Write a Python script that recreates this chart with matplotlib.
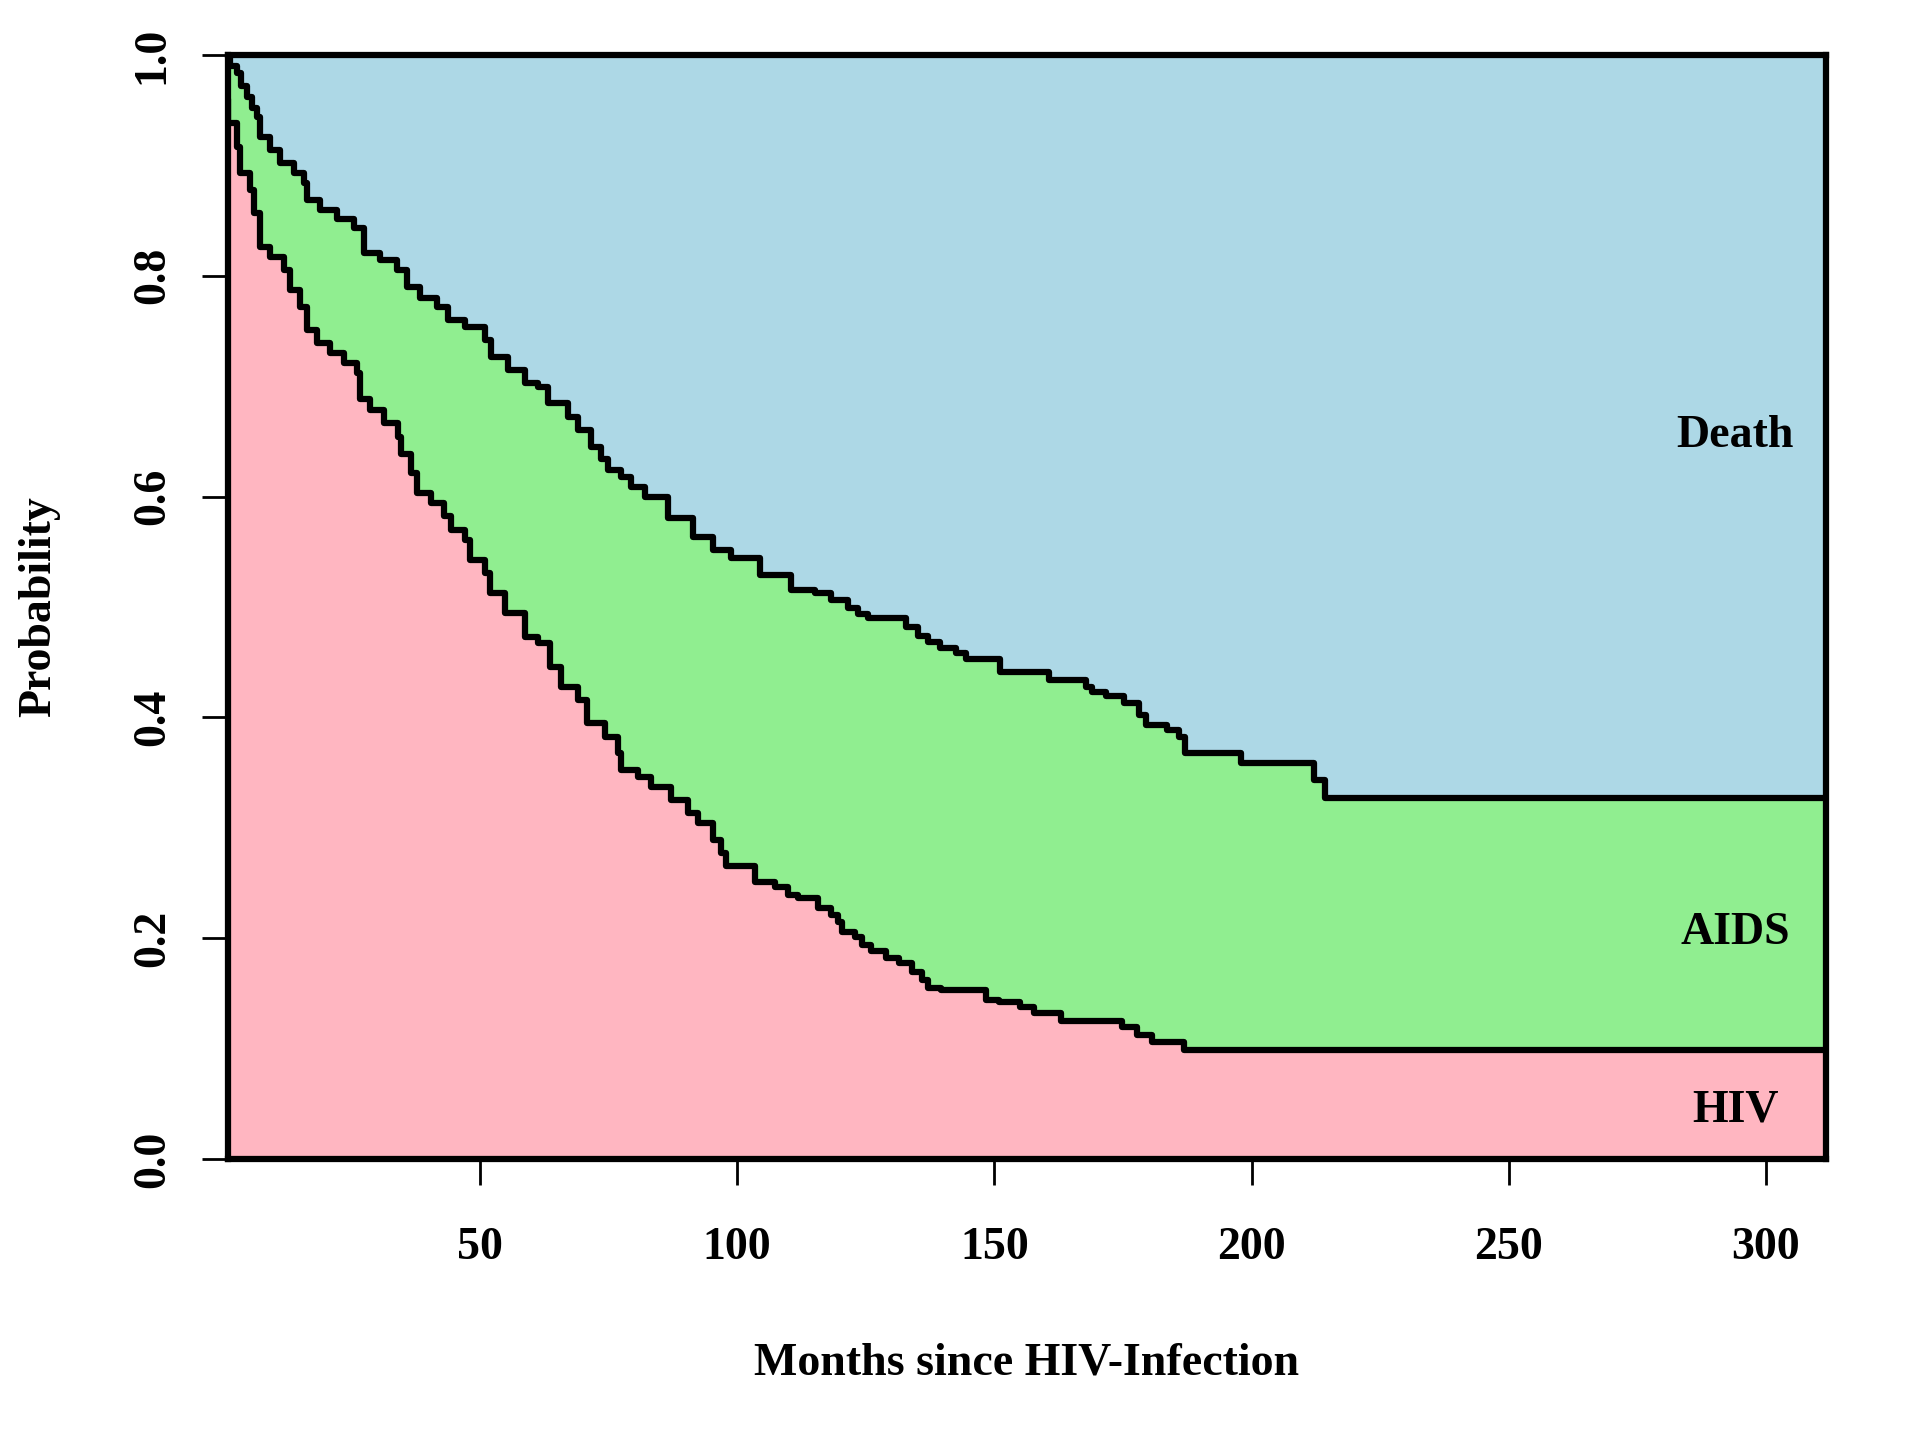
import matplotlib.pyplot as plt
import numpy as np

# Probabilidades de estado (curvas escalonadas)
# curva superior = P(HIV) + P(AIDS), curva inferior = P(HIV)
t_sup = [0, 1.5, 2.7, 3.5, 4.7, 5.6, 6.6, 7.2, 9.2, 11.1,
         13.9, 15.8, 16.4, 18.9, 22.2, 25.5, 27.5, 30.6, 33.9, 35.9,
         38.4, 41.7, 43.7, 47.0, 50.9, 52.1, 55.4, 58.7, 61.2, 63.2,
         67.1, 69.0, 71.5, 73.5, 74.8, 77.4, 79.3, 82.0, 86.5, 91.4,
         95.3, 98.8, 104.5, 110.5, 115.2, 118.3, 121.5, 123.5, 125.5, 132.8,
         135.2, 137.2, 139.5, 142.5, 144.4, 151.2, 160.6, 167.8, 169.0, 171.7,
         175.2, 178.2, 179.5, 183.5, 186.0, 187.0, 198.0, 212.2, 214.2]
p_sup = [1.0, 0.99, 0.984, 0.972, 0.962, 0.952, 0.944, 0.926, 0.914, 0.902,
         0.893, 0.884, 0.869, 0.860, 0.851, 0.843, 0.821, 0.814, 0.805, 0.790,
         0.780, 0.772, 0.760, 0.754, 0.742, 0.726, 0.715, 0.703, 0.699, 0.685,
         0.672, 0.660, 0.645, 0.634, 0.624, 0.618, 0.609, 0.600, 0.581, 0.563,
         0.552, 0.544, 0.529, 0.515, 0.513, 0.506, 0.499, 0.494, 0.490, 0.482,
         0.474, 0.468, 0.463, 0.458, 0.453, 0.441, 0.434, 0.428, 0.423, 0.419,
         0.413, 0.402, 0.393, 0.389, 0.382, 0.368, 0.359, 0.343, 0.327]

t_inf = [0, 0.5, 1.0, 2.7, 3.3, 5.3, 6.1, 7.2, 9.2, 11.9,
         13.1, 15.0, 16.4, 18.3, 20.9, 23.6, 26.1, 26.7, 28.7, 31.4,
         34.0, 34.6, 36.5, 37.8, 40.4, 43.1, 44.3, 47.0, 48.1, 50.9,
         52.0, 54.8, 58.7, 61.2, 63.7, 65.7, 69.0, 70.9, 74.3, 76.8,
         77.4, 80.7, 83.2, 87.1, 90.4, 92.4, 95.3, 96.9, 97.8, 103.5,
         107.4, 109.9, 111.9, 115.8, 118.3, 119.7, 120.3, 122.9, 124.2, 126.1,
         128.9, 131.4, 133.9, 135.9, 137.2, 139.7, 148.3, 151.0, 154.9, 157.7,
         162.9, 174.8, 177.8, 180.7, 186.9]
p_inf = [1.0, 0.96, 0.938, 0.917, 0.893, 0.878, 0.857, 0.826, 0.817, 0.805,
         0.787, 0.772, 0.751, 0.739, 0.730, 0.721, 0.712, 0.688, 0.678, 0.667,
         0.654, 0.639, 0.621, 0.603, 0.594, 0.582, 0.570, 0.561, 0.543, 0.531,
         0.513, 0.495, 0.473, 0.467, 0.446, 0.428, 0.416, 0.395, 0.382, 0.368,
         0.352, 0.346, 0.337, 0.325, 0.313, 0.304, 0.289, 0.277, 0.265, 0.251,
         0.246, 0.239, 0.236, 0.227, 0.221, 0.215, 0.206, 0.201, 0.194, 0.188,
         0.182, 0.178, 0.169, 0.162, 0.155, 0.153, 0.144, 0.142, 0.138, 0.132,
         0.125, 0.120, 0.112, 0.106, 0.099]

t_fin = 312
x_ticks = [50, 100, 150, 200, 250, 300]
y_ticks = [0.0, 0.2, 0.4, 0.6, 0.8, 1.0]
estados = ['Death', 'AIDS', 'HIV']
pos_estados = [(294, 0.655), (294, 0.205), (294, 0.044)]
colores = ['lightblue', 'lightgreen', 'lightpink']

plt.rcParams['font.family'] = ['Liberation Serif', 'DejaVu Serif']
plt.rcParams['font.weight'] = 'bold'

fig = plt.figure(figsize=(19.25, 14.47), dpi=100)
ax = fig.add_axes([0.1184, 0.199, 0.8302, 0.763])

x_sup = t_sup + [t_fin]
y_sup = p_sup + [p_sup[-1]]
x_inf = t_inf + [t_fin]
y_inf = p_inf + [p_inf[-1]]

# areas apiladas
ax.fill_between([0, t_fin], 0, 1, color=colores[0], lw=0)
ax.fill_between(x_sup, 0, y_sup, step='post', color=colores[1], lw=0)
ax.fill_between(x_inf, 0, y_inf, step='post', color=colores[2], lw=0)
ax.step(x_sup, y_sup, where='post', color='black', lw=4.5)
ax.step(x_inf, y_inf, where='post', color='black', lw=4.5)

for nombre, (xp, yp) in zip(estados, pos_estados):
    ax.text(xp, yp, nombre, ha='center', va='center', fontsize=33, fontweight='bold')

ax.set_xlim(1, 311.7)
ax.set_ylim(0, 1)
for s in ax.spines.values():
    s.set_linewidth(4.5)

ax.set_xticks(x_ticks)
ax.set_yticks(y_ticks)
ax.set_yticklabels(['%.1f' % v for v in y_ticks], rotation=90, va='center')
ax.tick_params(axis='both', direction='out', length=19, width=2, labelsize=33)
ax.tick_params(axis='x', pad=30)
ax.tick_params(axis='y', pad=20)

ax.set_xlabel('Months since HIV-Infection', fontsize=33, fontweight='bold')
ax.xaxis.set_label_coords(0.5, -0.185)
ax.xaxis.label.set_verticalalignment('center')
ax.set_ylabel('Probability', fontsize=33, fontweight='bold')
ax.yaxis.set_label_coords(-0.118, 0.5)
ax.yaxis.label.set_verticalalignment('center')

fig.savefig('out.png', dpi=100)
